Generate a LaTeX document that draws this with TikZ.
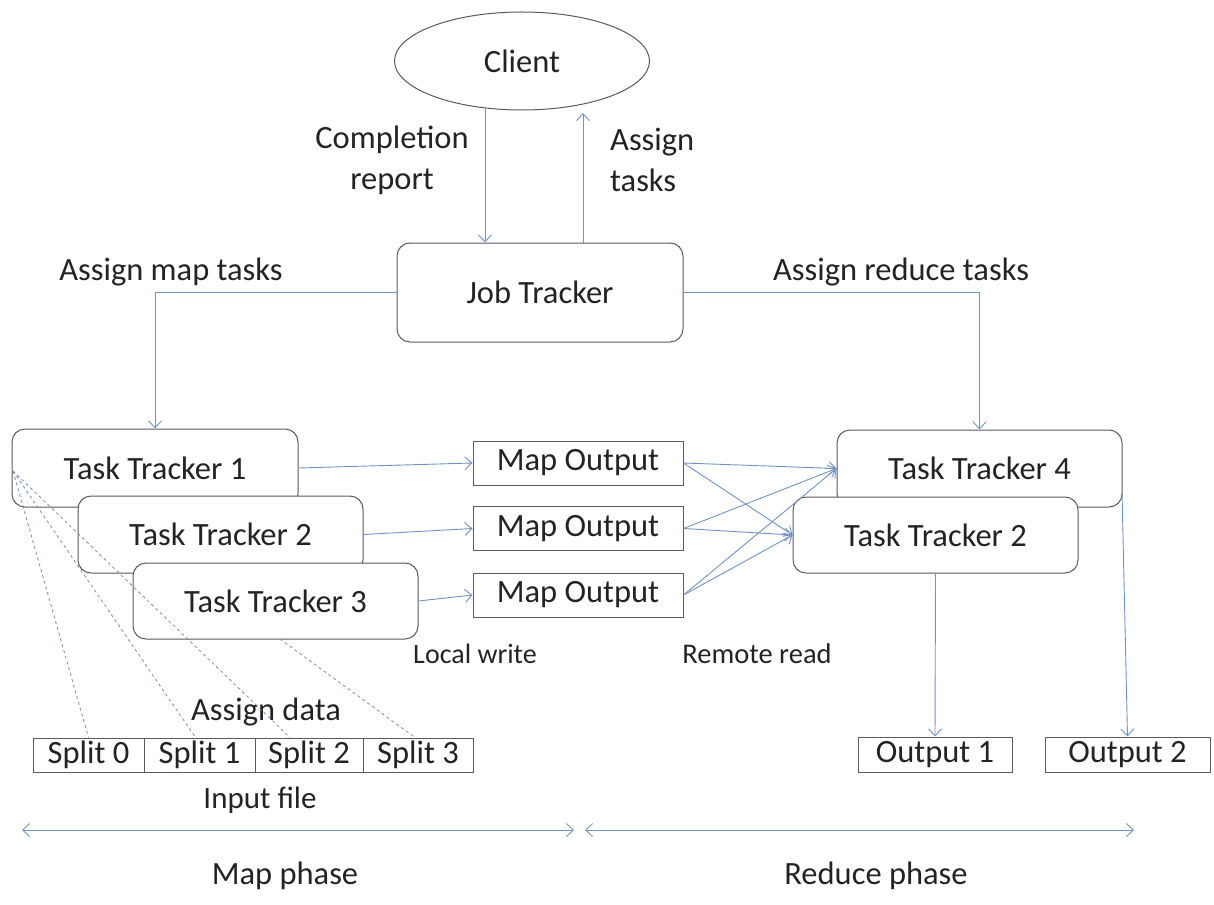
\documentclass[tikz,border=0pt]{standalone}
\usepackage{fontspec}
\setmainfont{Carlito}
\usetikzlibrary{arrows.meta,shapes.geometric,calc}
\definecolor{arrc}{RGB}{112,146,196}
\definecolor{boxc}{RGB}{90,90,90}
\definecolor{txtc}{RGB}{35,35,35}
\begin{document}
\begin{tikzpicture}[x=1pt,y=-1pt,
  every node/.style={text=txtc,font=\fontsize{32.5}{41}\selectfont},
  rbox/.style={draw=boxc,line width=1pt,rounded corners=13pt,fill=white,inner sep=0pt},
  sbox/.style={draw=boxc,line width=1pt,fill=white,inner sep=0pt},
  lbl/.style={inner sep=0pt},
  arr/.style={draw=arrc,line width=0.9pt,-{Straight Barb[length=7pt,width=13pt]}},
  arr2/.style={draw=arrc,line width=0.9pt,{Straight Barb[length=7pt,width=13pt]}-{Straight Barb[length=7pt,width=13pt]}},
  dline/.style={draw=arrc!80!gray,line width=0.8pt,dash pattern=on 3pt off 3pt}]
\useasboundingbox (0,0) rectangle (1214,904);
% top
\node[draw=boxc,line width=1pt,ellipse,minimum width=255pt,minimum height=98pt,inner sep=0pt] (client) at (522,61) {Client};
\node[rbox,minimum width=286pt,minimum height=99pt] (jt) at (540,292.5) {Job Tracker};
\node[lbl,align=center] (lcr) at (392,160) {Completion\\report};
\node[lbl,align=left,anchor=west] (lat) at (610,160) {Assign\\tasks};
\node[lbl] (lam) at (171,272) {Assign map tasks};
\node[lbl] (lar) at (901,272) {Assign reduce tasks};
% map side
\node[rbox,minimum width=286pt,minimum height=78pt] (tt1) at (155,468) {Task Tracker 1};
\node[rbox,minimum width=285pt,minimum height=77pt] (tt2) at (220.5,534.5) {Task Tracker 2};
\node[rbox,minimum width=285pt,minimum height=76pt] (tt3) at (275.5,601) {Task Tracker 3};
\node[sbox,minimum width=210pt,minimum height=44pt] (mo1) at (578,463) {Map Output};
\node[sbox,minimum width=210pt,minimum height=44pt] (mo2) at (578,528.5) {Map Output};
\node[sbox,minimum width=210pt,minimum height=44pt] (mo3) at (578,595) {Map Output};
% reduce side
\node[rbox,minimum width=285pt,minimum height=77pt] (tt4) at (979.5,468.5) {Task Tracker 4};
\node[rbox,minimum width=285pt,minimum height=76pt] (tt2r) at (935.5,535) {Task Tracker 2};
\node[sbox,minimum width=154pt,minimum height=35pt] (out1) at (935,754.5) {Output 1};
\node[sbox,minimum width=165pt,minimum height=35pt] (out2) at (1127.5,754.5) {Output 2};
% splits
\node[sbox,minimum width=111pt,minimum height=34pt] (s0) at (88.5,755) {Split 0};
\node[sbox,minimum width=111pt,minimum height=34pt] (s1) at (199.5,755) {Split 1};
\node[sbox,minimum width=108pt,minimum height=34pt] (s2) at (309,755) {Split 2};
\node[sbox,minimum width=110pt,minimum height=34pt] (s3) at (418,755) {Split 3};
% labels
\node[lbl,font=\fontsize{28}{34}\selectfont] (llw) at (475,654) {Local write};
\node[lbl,font=\fontsize{28.5}{34}\selectfont] (lrr) at (757,654) {Remote read};
\node[lbl] (lad) at (266,712) {Assign data};
\node[lbl,font=\fontsize{31}{36}\selectfont] (lif) at (260,800) {Input file};
\node[lbl] (lmp) at (285,876) {Map phase};
\node[lbl] (lrp) at (876,876) {Reduce phase};
% client <-> job tracker
\coordinate (c1) at (485,109);
\coordinate (c2) at (583,113);
\draw[arr] (c1) -- (c1 |- jt.north);
\draw[arr] (c2 |- jt.north) -- (c2);
\draw[arr] (jt.west) -| (tt1.north);
\draw[arr] (jt.east) -| (tt4.north);
% local write
\draw[arr] (tt1.east) -- (mo1.west);
\draw[arr] (tt2.east) -- (mo2.west);
\draw[arr] (tt3.east) -- (mo3.west);
% remote read
\foreach \m in {mo1,mo2,mo3}{
  \draw[arr] (\m.east) -- (tt4.west);
  \draw[arr] (\m.east) -- (tt2r.west);
}
% outputs
\coordinate (t4r) at (1122,492);
\draw[arr] (tt2r.south) -- (out1.north);
\draw[arr] (t4r) -- (out2.north);
% assign data
\coordinate (d0) at (13,471);
\coordinate (d3) at (280,639);
\draw[dline] (d0) -- (s0.north);
\draw[dline] (d0) -- ($(s1.north)+(-4,0)$);
\draw[dline] (d0) -- ($(s2.north)+(-19,0)$);
\draw[dline] (d3) -- ($(s3.north)+(-3,0)$);
% phases
\coordinate (p0) at (22,830);
\coordinate (p1) at (574,830);
\coordinate (p2) at (585,830);
\coordinate (p3) at (1134,830);
\draw[arr2] (p0) -- (p1);
\draw[arr2] (p2) -- (p3);
\end{tikzpicture}
\end{document}
